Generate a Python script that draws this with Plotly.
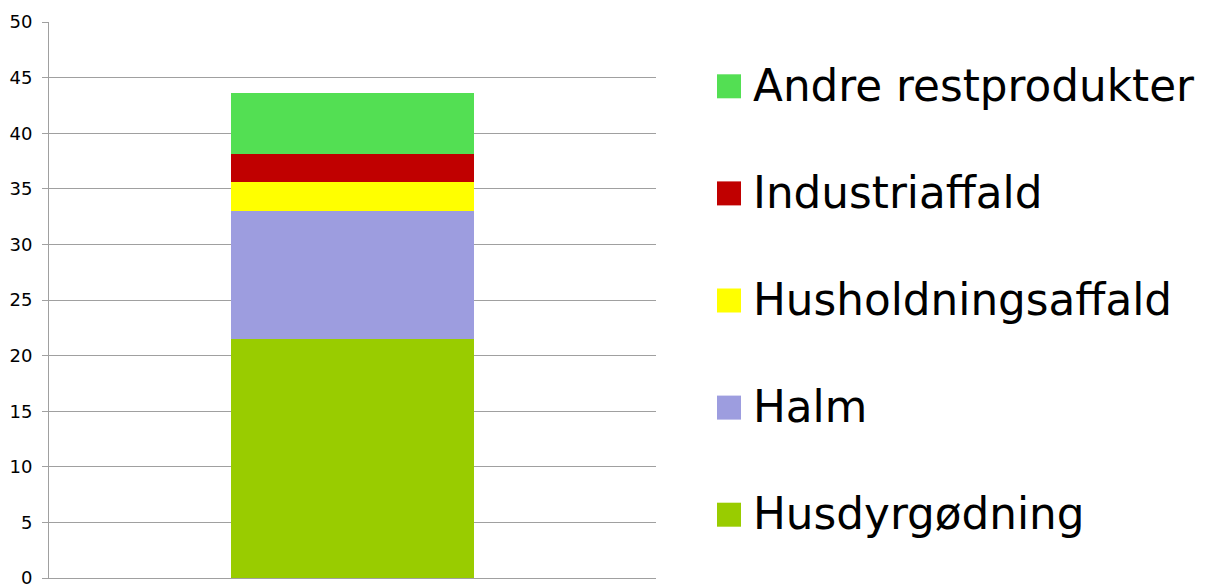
import plotly.graph_objects as go

categories = ["Husdyrgødning", "Halm", "Husholdningsaffald", "Industriaffald", "Andre restprodukter"]
values = [21.5, 11.5, 2.6, 2.5, 5.5]
colors = ["#99CC00", "#9D9DDF", "#FFFF00", "#C00000", "#53DF53"]
y_ticks = [0, 5, 10, 15, 20, 25, 30, 35, 40, 45, 50]

W, H = 1208, 586
ML, MR, MT, MB = 49, 552, 22, 8
PW, PH = W - ML - MR, H - MT - MB

def pxx(px):
    return (px - ML) / PW

def pxy(py):
    return (H - MB - py) / PH

fig = go.Figure()
for name, val, col in zip(categories, values, colors):
    fig.add_trace(go.Bar(x=[""], y=[val], name=name, marker_color=col,
                         marker_line_width=0, width=0.4, showlegend=False))

# manual legend (large squares + text), top entry = last series
row_top, row_step = 86.3, 107.1
shapes, annotations = [], []
for i, (name, col) in enumerate(zip(reversed(categories), reversed(colors))):
    cy = row_top + i * row_step
    shapes.append(dict(type="rect", xref="paper", yref="paper",
                       x0=pxx(717), x1=pxx(741), y0=pxy(cy + 12), y1=pxy(cy - 12),
                       fillcolor=col, line=dict(width=0)))
    annotations.append(dict(xref="paper", yref="paper", x=pxx(751), y=pxy(cy - 1),
                            xanchor="left", yanchor="middle", showarrow=False,
                            text=name, font=dict(family="DejaVu Sans", size=43.7, color="#000000")))

fig.update_layout(
    barmode="stack",
    width=W, height=H,
    margin=dict(l=ML, r=MR, t=MT, b=MB, pad=0, autoexpand=False),
    paper_bgcolor="white", plot_bgcolor="white",
    shapes=shapes, annotations=annotations,
    xaxis=dict(range=[-0.5, 0.5], showticklabels=False, showgrid=False,
               showline=True, linecolor="#A0A0A0", linewidth=1,
               zeroline=False, ticks="", automargin=False),
    yaxis=dict(range=[0, 50], tickvals=y_ticks, showgrid=True, gridcolor="#A0A0A0",
               gridwidth=1, showline=True, linecolor="#A0A0A0", linewidth=1,
               ticks="outside", ticklen=6, tickcolor="#A0A0A0", zeroline=False,
               tickfont=dict(family="DejaVu Sans", size=18, color="#000000"),
               ticklabelstandoff=6, ticklabeloverflow="allow", automargin=False),
    font=dict(family="DejaVu Sans"),
)

fig.write_html("out.html", config={"displayModeBar": False},
               post_script="document.body.style.margin='0';document.body.style.overflow='hidden';")
